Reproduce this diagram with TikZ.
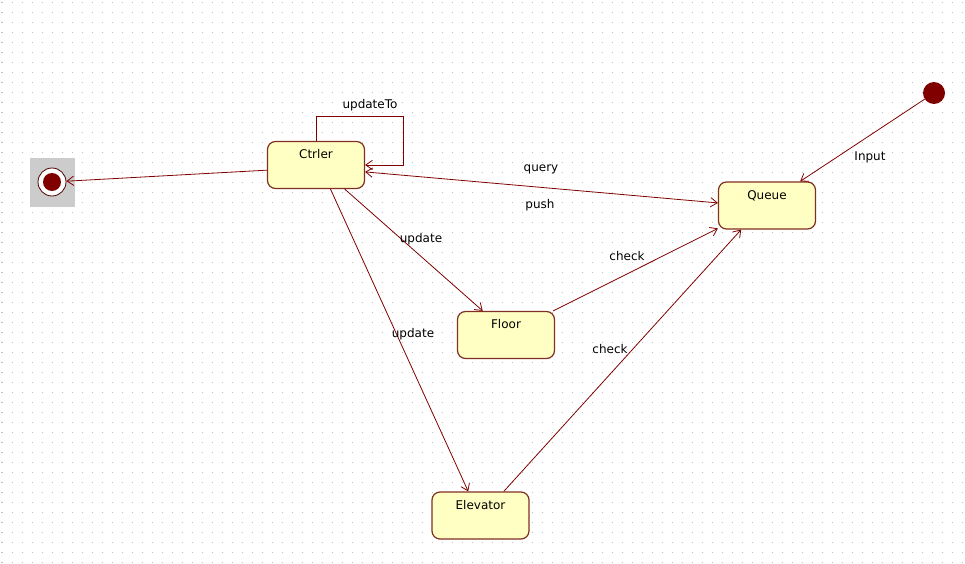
\documentclass[tikz,border=0pt]{standalone}
\usepackage{fontspec}
\setmainfont{DejaVu Sans}
\usetikzlibrary{arrows.meta}
\definecolor{edge}{RGB}{128,0,0}
\definecolor{boxline}{RGB}{128,48,32}
\definecolor{boxfill}{RGB}{255,255,196}
\begin{document}
\begin{tikzpicture}[x=0.75pt,y=-0.75pt,
  state/.style={draw=boxline, fill=boxfill, rounded corners=6pt, line width=0.9pt,
    minimum width=72.75pt, inner xsep=0pt, inner ysep=0pt,
    text height=12.75pt, text depth=22.5pt, font=\fontsize{9}{10}\selectfont},
  lbl/.style={font=\fontsize{9}{10}\selectfont, inner sep=1pt},
  tr/.style={draw=edge, line width=0.6pt, -{Straight Barb[length=5pt,width=7pt]}},
  trb/.style={draw=edge, line width=0.6pt, {Straight Barb[length=5pt,width=7pt]}-{Straight Barb[length=5pt,width=7pt]}},
]
\useasboundingbox (0,0) rectangle (965,564);
\fill[white] (0,0) rectangle (965,564);
\foreach \y in {2,12,...,562}
  \draw[black!25, line width=0.75pt, dash pattern=on 0.75pt off 6.75pt] (1.5,\y) -- (965,\y);

% states
\node[state] (ctrl) at (316,165) {Ctrler};
\node[state] (queue) at (767,205.5) {Queue};
\node[state] (floor) at (506,335) {Floor};
\node[state] (elev) at (480.5,515.5) {Elevator};

% initial and final
\node[circle, fill=edge, minimum size=16.5pt, inner sep=0pt] (init) at (934,93) {};
\fill[black!20] (30,158) rectangle (75,207);
\node[circle, draw=edge!60!black, fill=white, minimum size=21pt, inner sep=0pt, line width=0.6pt] (fin) at (52,182) {};
\node[circle, fill=edge, minimum size=13.5pt, inner sep=0pt] (fincore) at (fin) {};

% transitions
\draw[tr] (ctrl.186) -- (fin);
\coordinate (loopc) at (403,116);
\draw[tr] (ctrl.north) |- (loopc) |- (ctrl.east);
\draw[trb] (ctrl.-8) -- (queue.177);
\draw[tr] (ctrl.-40) -- (floor.134);
\draw[tr] (ctrl.-59) -- (elev.117);
\draw[tr] (floor.27) -- (queue.205);
\draw[tr] (elev.46) -- (queue.223);
\draw[tr] (init) -- (queue.36);

% labels
\node[lbl] (lupdto) at (370,105) {updateTo};
\node[lbl] (lquery) at (541,169) {query};
\node[lbl] (lpush) at (540,205) {push};
\node[lbl] (lupd1) at (421,239) {update};
\node[lbl] (lupd2) at (413,334) {update};
\node[lbl] (lchk1) at (627,256) {check};
\node[lbl] (lchk2) at (610,349) {check};
\node[lbl] (linput) at (870,157) {Input};
\end{tikzpicture}
\end{document}
